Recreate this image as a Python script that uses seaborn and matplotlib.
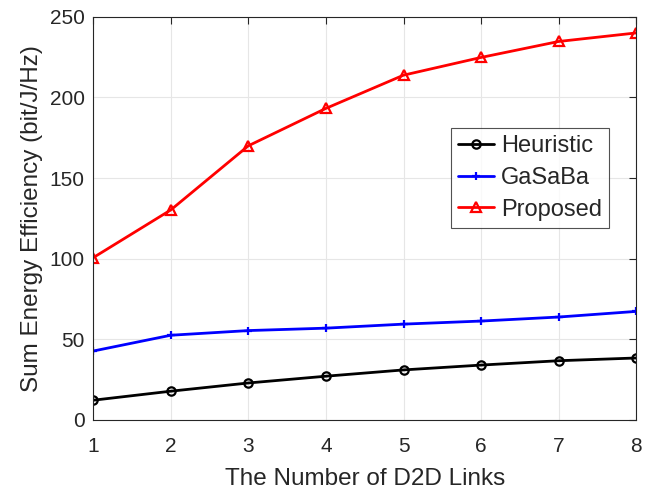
import seaborn as sns
import matplotlib.pyplot as plt
import pandas as pd

# data
links = [1, 2, 3, 4, 5, 6, 7, 8]
heuristic = [12.2, 17.8, 22.9, 27.1, 31.0, 34.0, 36.7, 38.4]
gasaba = [42.7, 52.5, 55.4, 56.9, 59.4, 61.3, 63.8, 67.3]
proposed = [100.6, 130.2, 170.0, 193.2, 213.8, 224.8, 234.7, 240.0]

df = pd.DataFrame({'links': links, 'Heuristic': heuristic,
                   'GaSaBa': gasaba, 'Proposed': proposed})

sns.set_style('white')
plt.rcParams['font.family'] = ['Liberation Sans', 'DejaVu Sans']

fig = plt.figure(figsize=(6.56, 4.94), dpi=100)
ax = fig.add_axes([0.142, 0.150, 0.828, 0.816])

# series styling (MATLAB-like)
styles = {
    'Heuristic': dict(color='black', marker='o', markersize=6),
    'GaSaBa': dict(color='blue', marker='+', markersize=6),
    'Proposed': dict(color='red', marker='^', markersize=7),
}
for name, st in styles.items():
    sns.lineplot(data=df, x='links', y=name, ax=ax, label=name,
                 color=st['color'], marker=st['marker'], markersize=st['markersize'],
                 markerfacecolor='none', markeredgecolor=st['color'],
                 markeredgewidth=1.6, linewidth=2)

ax.set_xlim(1, 8)
ax.set_ylim(0, 250)
ax.set_xticks(links)
ax.set_yticks([0, 50, 100, 150, 200, 250])
ax.grid(True, color='#e6e6e6', linewidth=0.8)
ax.set_axisbelow(True)

for sp in ax.spines.values():
    sp.set_color('#262626')
    sp.set_linewidth(0.8)
ax.tick_params(direction='in', top=True, right=True, length=5, width=0.8,
               colors='#262626', labelsize=15, labelcolor='#262626', pad=6)
ax.tick_params(axis='x', pad=12)

ax.set_xlabel('The Number of D2D Links', fontsize=17.5, labelpad=9)
ax.set_ylabel('Sum Energy Efficiency (bit/J/Hz)', fontsize=17.5, labelpad=5)

leg = ax.legend(loc='upper left', bbox_to_anchor=(0.659, 0.7246), borderaxespad=0,
                fontsize=17, frameon=True, fancybox=False, handlelength=1.5,
                handletextpad=0.3, borderpad=0.3, labelspacing=0.42)
leg.get_frame().set_edgecolor('#262626')
leg.get_frame().set_linewidth(0.8)

plt.savefig('out.png', dpi=100)
